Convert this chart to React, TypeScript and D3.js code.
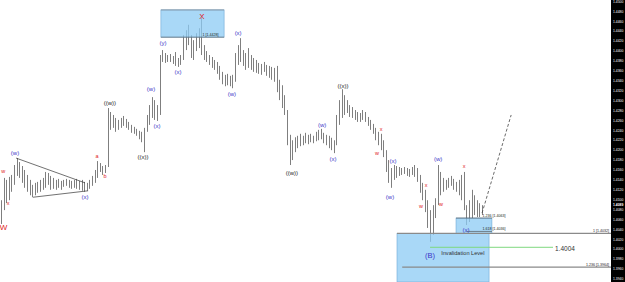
import React from "react";
import * as d3 from "d3";

const W = 625;
const H = 282;

// Bar highs / lows (price)
const highs = [1.4099,1.4144,1.4140,1.4146,1.4150,1.4170,1.4184,1.4176,1.4168,1.4160,
1.4150,1.4140,1.4130,1.4134,1.4136,1.4140,1.4144,1.4156,1.4154,1.4148,
1.4144,1.4140,1.4142,1.4138,1.4140,1.4142,1.4140,1.4138,1.4140,1.4142,
1.4138,1.4140,1.4136,1.4134,1.4140,1.4148,1.4160,1.4178,1.4174,1.4168,
1.4170,1.4285,1.4277,1.4271,1.4265,1.4261,1.4265,1.4269,1.4263,1.4257,
1.4251,1.4247,1.4243,1.4239,1.4237,1.4245,1.4271,1.4291,1.4307,1.4301,
1.4291,1.4392,1.4402,1.4396,1.4392,1.4394,1.4390,1.4398,1.4386,1.4392,
1.4432,1.4442,1.4453,1.4432,1.4422,1.4436,1.4446,1.4469,1.4412,1.4400,
1.4392,1.4388,1.4382,1.4378,1.4370,1.4358,1.4352,1.4354,1.4350,1.4352,
1.4396,1.4412,1.4426,1.4402,1.4396,1.4406,1.4392,1.4386,1.4382,1.4376,
1.4374,1.4378,1.4372,1.4370,1.4368,1.4366,1.4370,1.4342,1.4331,1.4311,
1.4281,1.4231,1.4220,1.4226,1.4229,1.4233,1.4229,1.4235,1.4231,1.4233,
1.4229,1.4237,1.4241,1.4243,1.4235,1.4231,1.4229,1.4225,1.4220,1.4271,
1.4301,1.4323,1.4311,1.4301,1.4291,1.4287,1.4281,1.4277,1.4275,1.4281,
1.4277,1.4267,1.4261,1.4253,1.4245,1.4237,1.4233,1.4220,1.4200,1.4180,
1.4164,1.4170,1.4168,1.4166,1.4164,1.4166,1.4164,1.4162,1.4166,1.4170,
1.4164,1.4150,1.4134,1.4120,1.4099,1.4079,1.4089,1.4103,1.4170,1.4156,
1.4144,1.4140,1.4144,1.4148,1.4142,1.4136,1.4140,1.4150,1.4156,1.4089,
1.4099,1.4120,1.4109,1.4099,1.4093,1.4089];

const lows = [1.4051,1.4079,1.4093,1.4099,1.4116,1.4130,1.4148,1.4144,1.4134,1.4124,
1.4116,1.4109,1.4105,1.4109,1.4114,1.4116,1.4120,1.4124,1.4130,1.4120,
1.4122,1.4120,1.4124,1.4120,1.4126,1.4128,1.4124,1.4122,1.4124,1.4122,
1.4120,1.4118,1.4116,1.4118,1.4122,1.4128,1.4134,1.4144,1.4156,1.4150,
1.4154,1.4166,1.4241,1.4245,1.4237,1.4241,1.4245,1.4249,1.4245,1.4241,
1.4235,1.4233,1.4229,1.4222,1.4216,1.4196,1.4237,1.4251,1.4265,1.4261,
1.4259,1.4271,1.4378,1.4376,1.4378,1.4378,1.4374,1.4370,1.4368,1.4372,
1.4382,1.4402,1.4412,1.4386,1.4382,1.4400,1.4406,1.4392,1.4382,1.4378,
1.4372,1.4366,1.4362,1.4354,1.4342,1.4333,1.4329,1.4331,1.4329,1.4325,
1.4338,1.4372,1.4378,1.4370,1.4362,1.4366,1.4362,1.4358,1.4356,1.4354,
1.4352,1.4358,1.4350,1.4346,1.4342,1.4338,1.4317,1.4301,1.4285,1.4271,
1.4210,1.4170,1.4180,1.4196,1.4204,1.4208,1.4210,1.4214,1.4212,1.4216,
1.4214,1.4218,1.4220,1.4222,1.4214,1.4210,1.4204,1.4200,1.4194,1.4210,
1.4251,1.4265,1.4271,1.4275,1.4267,1.4265,1.4261,1.4257,1.4257,1.4261,
1.4257,1.4249,1.4241,1.4233,1.4220,1.4210,1.4200,1.4186,1.4156,1.4134,
1.4124,1.4140,1.4144,1.4148,1.4150,1.4152,1.4148,1.4146,1.4150,1.4146,
1.4136,1.4114,1.4099,1.4075,1.4043,1.4015,1.4029,1.4063,1.4089,1.4109,
1.4116,1.4120,1.4124,1.4128,1.4120,1.4116,1.4109,1.4099,1.4079,1.4049,
1.4055,1.4063,1.4069,1.4065,1.4065,1.4069];

// Wave labels
const labelTexts = ["W","w","x","(w)","(x)","a","b","((w))","((x))","(w)","(x)","(y)","(x)","X","(w)","(x)","((w))","(w)","(x)","((x))","x","w","(x)","(w)","x","w","(B)","(w)","w","x","(x)"];
const labelIdx = [1.0,0.9,2.7,5.4,32.3,36.9,40,41.9,54.6,57.7,60,62.3,68.1,77.3,88.8,91.2,111.9,123.5,127.7,131.5,146.2,144.6,150.8,149.6,163.5,161.5,165,168.1,169.2,178.1,178.8];
const labelPrices = [1.4043,1.4156,1.4093,1.4194,1.4105,1.4188,1.4146,1.4295,1.4186,1.4323,1.4247,1.4415,1.4356,1.4469,1.4313,1.4436,1.4154,1.4249,1.4182,1.4329,1.4241,1.4194,1.4178,1.4105,1.4128,1.4087,1.3986,1.4182,1.4091,1.4166,1.4039];
const labelKinds = ["R","r","r","b","b","r","r","k","k","b","b","b","b","R","b","b","k","b","b","k","r","r","b","b","r","r","B","b","r","r","b"];

// Axis tick labels
const axisTicks = d3.range(1.394, 1.4501, 0.002);
const currentPrice = 1.4089;

// Fibonacci / zone levels
const topBox = { i0: 61.5, i1: 85.8, pTop: 1.4483, pBot: 1.4428, label: "1 [1.4428]" };
const bigBox = { i0: 152.3, i1: 187.7, pTop: 1.4032, pBot: 1.3934 };
const smallBox = { i0: 175, i1: 188.8, pTop: 1.4063, pBot: 1.4032 };
const fibLevels = [
  { p: 1.4063, i0: 175, i1: 188.8, text: "1.236 [1.4063]", side: "right" },
  { p: 1.4036, i0: 179, i1: 188.8, text: "1.618 [1.4036]", side: "right" },
  { p: 1.4032, i0: 152.3, i1: 234.6, text: "1 [1.4032]", side: "end" },
  { p: 1.3964, i0: 154.3, i1: 234.6, text: "1.236 [1.3964]", side: "end" },
];
const invalidation = { p: 1.4004, i0: 165, i1: 212.3, text: "1.4004" };
const triUpper = [[5.8, 1.4184], [32.3, 1.4134]];
const triLower = [[12.3, 1.4105], [33.5, 1.4118]];
const projection = [[185, 1.4073], [196.2, 1.4271]];

export default function App() {
  const x = d3.scaleLinear().domain([0, 234.6]).range([1, 611]);
  const y = d3.scaleLinear().domain([1.394, 1.45]).range([279, 1.5]);
  const fmt = d3.format(".4f");
  const line = d3.line<number[]>().x((d) => x(d[0])).y((d) => y(d[1]));
  const font = "'Liberation Sans', Arial, sans-serif";
  const colorOf = (k: string) => (k === "r" || k === "R" ? "#e0201c" : k === "k" ? "#222" : "#3a34c8");
  const sizeOf = (k: string) => (k === "R" ? 8 : k === "B" ? 7.5 : k === "r" ? 5.5 : 6);

  return (
    <svg width={W} height={H} style={{ position: "fixed", left: 0, top: 0, background: "#fff" }} fontFamily={font}>
      <rect x={0} y={0} width={W} height={H} fill="#fff" />
      {/* bars */}
      <g stroke="#707070" strokeWidth={0.9}>
        {highs.map((h, i) => (
          <line key={i} x1={Math.round(x(i)) + 0.5} x2={Math.round(x(i)) + 0.5} y1={y(h)} y2={y(lows[i])} />
        ))}
      </g>
      {/* zones */}
      <rect x={x(topBox.i0)} y={y(topBox.pTop)} width={x(topBox.i1) - x(topBox.i0)} height={y(topBox.pBot) - y(topBox.pTop)} fill="#8ccbf4" fillOpacity={0.75} stroke="#6fa9d6" strokeWidth={0.6} />
      <line x1={x(topBox.i0)} x2={x(topBox.i1)} y1={y(topBox.pTop)} y2={y(topBox.pTop)} stroke="#8a9aa8" strokeWidth={1} />
      <line x1={x(topBox.i0)} x2={x(topBox.i1)} y1={y(topBox.pBot)} y2={y(topBox.pBot)} stroke="#555" strokeWidth={0.6} />
      <text x={x(77.5)} y={y(topBox.pBot) - 1} fontSize={3.6} fill="#222">{topBox.label}</text>
      <rect x={x(bigBox.i0)} y={y(bigBox.pTop)} width={x(bigBox.i1) - x(bigBox.i0)} height={y(bigBox.pBot) - y(bigBox.pTop)} fill="#8ccbf4" fillOpacity={0.75} stroke="#6fa9d6" strokeWidth={0.6} />
      <rect x={x(smallBox.i0)} y={y(smallBox.pTop)} width={x(smallBox.i1) - x(smallBox.i0)} height={y(smallBox.pBot) - y(smallBox.pTop)} fill="#8ccbf4" fillOpacity={0.75} stroke="#6fa9d6" strokeWidth={0.6} />
      {/* fib levels */}
      {fibLevels.map((f, k) => (
        <g key={k}>
          <line x1={x(f.i0)} x2={x(f.i1)} y1={y(f.p)} y2={y(f.p)} stroke={f.side === "end" ? "#8a8a8a" : "#444"} strokeWidth={f.side === "end" ? 1.2 : 0.6} />
          {f.side === "end" ? (
            <text x={x(f.i1) - 2} y={y(f.p) - 1.2} fontSize={3.6} textAnchor="end" fill="#222">{f.text}</text>
          ) : (
            <text x={x(f.i1) - 9.5} y={y(f.p) - 1.5} fontSize={3.6} fill="#222">{f.text}</text>
          )}
        </g>
      ))}
      <line x1={x(invalidation.i0)} x2={x(invalidation.i1)} y1={y(invalidation.p)} y2={y(invalidation.p)} stroke="#7fd87f" strokeWidth={1} />
      <text x={x(invalidation.i1) + 2} y={y(invalidation.p) + 4} fontSize={6.5} fill="#333">{invalidation.text}</text>
      <text x={x(169.3)} y={y(invalidation.p) + 7.5} fontSize={5.6} fill="#333">Invalidation Level</text>
      {/* trend lines */}
      <path d={line(triUpper as number[][]) || ""} stroke="#333" strokeWidth={0.7} fill="none" />
      <path d={line(triLower as number[][]) || ""} stroke="#333" strokeWidth={0.7} fill="none" />
      <path d={line(projection as number[][]) || ""} stroke="#444" strokeWidth={0.8} strokeDasharray="3,2" fill="none" />
      {/* wave labels */}
      {labelTexts.map((t, k) => (
        <text key={k} x={x(labelIdx[k])} y={y(labelPrices[k])} fontSize={sizeOf(labelKinds[k])} fill={colorOf(labelKinds[k])} textAnchor="middle" dominantBaseline="middle">{t}</text>
      ))}
      {/* price axis */}
      <rect x={611} y={0} width={14} height={H} fill="#000" />
      {axisTicks.map((p, k) => (
        <text key={k} x={613} y={y(p) + 1.2} fontSize={3.4} fill="#fff">{fmt(p)}</text>
      ))}
      <text x={613} y={y(currentPrice) + 1.2} fontSize={3.4} fill="#fff" fontWeight="bold">{fmt(currentPrice)}</text>
    </svg>
  );
}
